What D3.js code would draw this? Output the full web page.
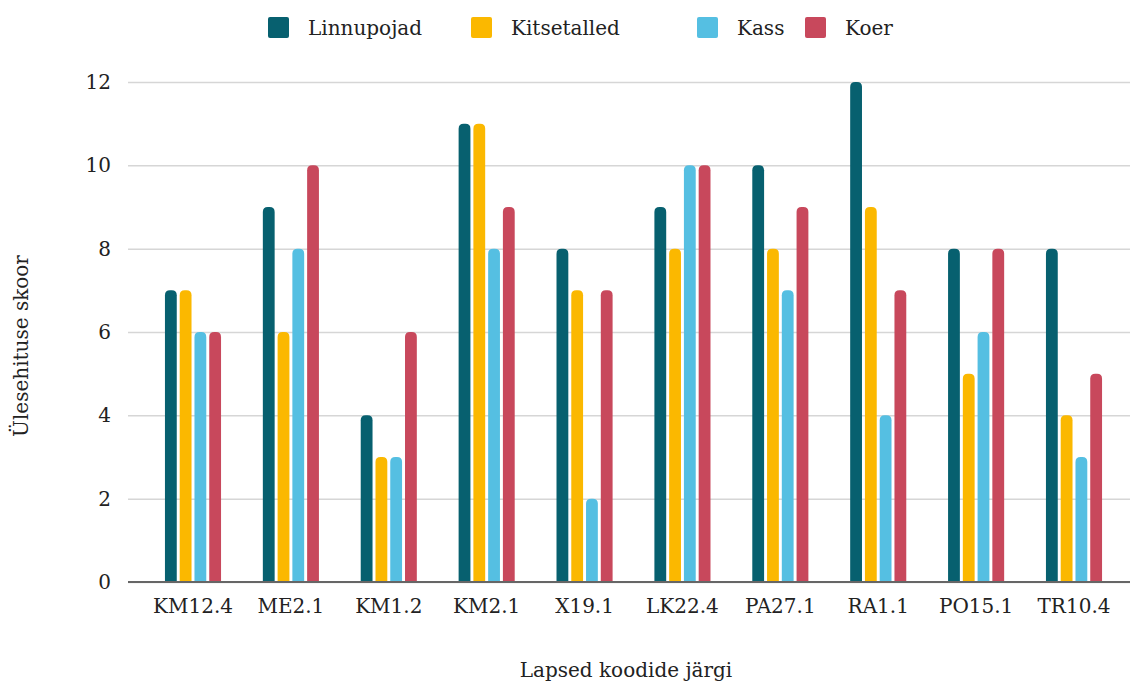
<!DOCTYPE html>
<html>
<head>
<meta charset="utf-8">
<script src="https://cdn.jsdelivr.net/npm/d3@7"></script>
<style>
  html, body { margin: 0; padding: 0; background: #fff; }
</style>
</head>
<body>
<div id="chart"></div>
<script>
const categories = ['KM12.4', 'ME2.1', 'KM1.2', 'KM2.1', 'X19.1', 'LK22.4', 'PA27.1', 'RA1.1', 'PO15.1', 'TR10.4'];
const seriesNames = ['Linnupojad', 'Kitsetalled', 'Kass', 'Koer'];
const linnupojad = [7, 9, 4, 11, 8, 9, 10, 12, 8, 8];
const kitsetalled = [7, 6, 3, 11, 7, 8, 8, 9, 5, 4];
const kass = [6, 8, 3, 8, 2, 10, 7, 4, 6, 3];
const koer = [6, 10, 6, 9, 7, 10, 9, 7, 8, 5];
const yTicks = [0, 2, 4, 6, 8, 10, 12];
const colors = ['#07606f', '#fbb800', '#55bfe2', '#c8485c'];

const series = [linnupojad, kitsetalled, kass, koer];
const W = 1130, H = 684;
const plot = { left: 128, right: 1130, top: 82, bottom: 582 };
const FONT = 'DejaVu Serif';
const FS = 20;

const svg = d3.select('#chart').append('svg').attr('width', W).attr('height', H);

const y = d3.scaleLinear().domain([0, 12]).range([plot.bottom, plot.top]);
const x = d3.scaleBand().domain(categories).range([128, 1139]).paddingInner(0).paddingOuter(0.164);
const xs = d3.scaleBand().domain(d3.range(series.length)).range([-31, 31]).padding(0.2);

// gridlines + y tick labels
const yAxis = svg.append('g').attr('transform', `translate(${plot.left},0)`)
  .call(d3.axisLeft(y).tickValues(yTicks).tickSize(-(plot.right - plot.left)).tickPadding(17));
yAxis.select('.domain').remove();
yAxis.selectAll('line').attr('stroke', '#d6d6d6').attr('stroke-width', 1.5);
yAxis.selectAll('text').attr('fill', '#222').attr('font-family', FONT).attr('font-size', FS);

// bars, rounded on top
function barPath(x0, w, y0, y1, r) {
  r = Math.min(r, w / 2, y0 - y1);
  return `M${x0},${y0}V${y1 + r}Q${x0},${y1} ${x0 + r},${y1}H${x0 + w - r}Q${x0 + w},${y1} ${x0 + w},${y1 + r}V${y0}Z`;
}
const groups = svg.append('g').selectAll('g').data(categories).enter().append('g')
  .attr('transform', d => `translate(${x(d) + x.bandwidth() / 2},0)`);
groups.selectAll('path').data((d, i) => series.map((s, k) => ({ k, v: s[i] }))).enter().append('path')
  .attr('fill', d => colors[d.k])
  .attr('d', d => barPath(xs(d.k), xs.bandwidth(), y(0), y(d.v), 5));

// x axis
const xAxis = svg.append('g').attr('transform', `translate(0,${plot.bottom})`)
  .call(d3.axisBottom(x).tickSize(0).tickPadding(17));
xAxis.select('.domain').remove();
xAxis.selectAll('text').attr('fill', '#222').attr('font-family', FONT).attr('font-size', FS);
svg.append('line').attr('x1', plot.left).attr('x2', plot.right).attr('y1', plot.bottom).attr('y2', plot.bottom)
  .attr('stroke', '#666').attr('stroke-width', 2);

// axis titles
svg.append('text').attr('x', 626).attr('y', 677).attr('text-anchor', 'middle')
  .attr('font-family', FONT).attr('font-size', FS).attr('fill', '#222').text('Lapsed koodide järgi');
svg.append('text').attr('transform', 'translate(28,346) rotate(-90)').attr('text-anchor', 'middle')
  .attr('font-family', FONT).attr('font-size', FS).attr('fill', '#222').text('Ülesehituse skoor');

// legend
const legendX = [268, 471, 697, 805];
const legend = svg.append('g').selectAll('g').data(seriesNames).enter().append('g')
  .attr('transform', (d, i) => `translate(${legendX[i]},17)`);
legend.append('rect').attr('width', 21).attr('height', 21).attr('rx', 2).attr('fill', (d, i) => colors[i]);
legend.append('text').attr('x', 40).attr('y', 18).attr('font-family', FONT).attr('font-size', FS).attr('fill', '#222').text(d => d);
</script>
</body>
</html>
